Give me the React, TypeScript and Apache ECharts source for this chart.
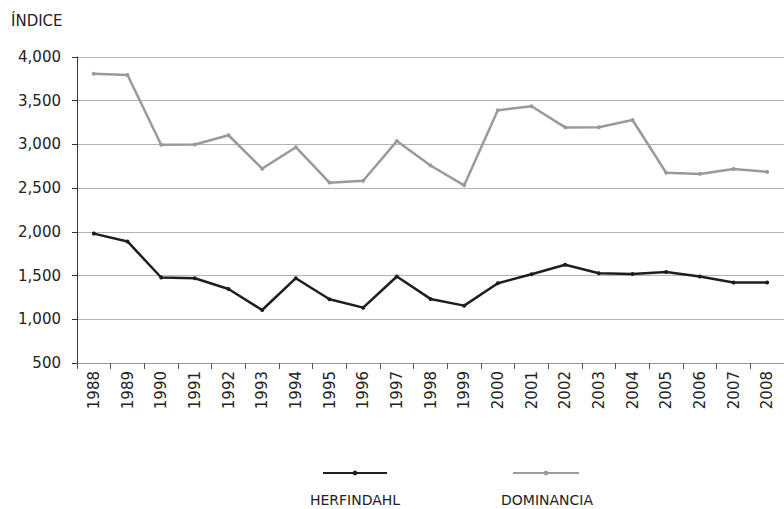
import React, { useEffect, useRef } from "react";
import * as echarts from "echarts";

const years = ["1988","1989","1990","1991","1992","1993","1994","1995","1996","1997","1998","1999","2000","2001","2002","2003","2004","2005","2006","2007","2008"];
const herfindahl = [1980,1890,1478,1470,1347,1106,1470,1229,1133,1489,1233,1156,1413,1516,1623,1527,1519,1542,1489,1420,1420];
const dominancia = [3808,3795,2996,3000,3105,2723,2968,2563,2584,3038,2759,2532,3390,3437,3195,3197,3279,2676,2663,2720,2686];
const seriesNames = ["HERFINDAHL", "DOMINANCIA"];
const yTitle = "ÍNDICE";

export default function App() {
  const ref = useRef<HTMLDivElement>(null);
  useEffect(() => {
    if (!ref.current) return;
    const chart = echarts.init(ref.current, undefined, { renderer: "svg" });
    const font = "DejaVu Sans";
    chart.setOption({
      animation: false,
      backgroundColor: "#ffffff",
      title: {
        text: yTitle,
        left: 6,
        top: 8,
        textStyle: { fontFamily: font, fontSize: 15, fontWeight: "normal", color: "#222" },
      },
      grid: { left: 77, top: 57, width: 711, height: 306 },
      legend: [
        {
          data: [seriesNames[0]],
          left: 317,
          top: 465,
          padding: 5,
          itemWidth: 64,
          itemHeight: 6,
          formatter: () => "",
          textStyle: { fontSize: 1 },
        },
        {
          data: [seriesNames[1]],
          left: 507,
          top: 465,
          padding: 5,
          itemWidth: 66,
          itemHeight: 6,
          formatter: () => "",
          textStyle: { fontSize: 1 },
        },
      ],
      graphic: [
        {
          type: "text",
          x: 355,
          y: 500,
          style: { text: seriesNames[0], fontFamily: font, fontSize: 14, fill: "#222", align: "center", verticalAlign: "middle" },
        },
        {
          type: "text",
          x: 547,
          y: 500,
          style: { text: seriesNames[1], fontFamily: font, fontSize: 14, fill: "#222", align: "center", verticalAlign: "middle" },
        },
      ],
      xAxis: {
        type: "category",
        data: years,
        boundaryGap: true,
        axisLine: { show: true, lineStyle: { color: "#999", width: 1 } },
        axisTick: { show: true, length: 6, lineStyle: { color: "#555" } },
        axisLabel: { rotate: 90, margin: 8, fontFamily: font, fontSize: 15, color: "#222", interval: 0 },
        splitLine: { show: false },
      },
      yAxis: {
        type: "value",
        min: 500,
        max: 4000,
        interval: 500,
        axisLine: { show: true, lineStyle: { color: "#333", width: 1 } },
        axisTick: { show: true, length: 5, lineStyle: { color: "#333" } },
        axisLabel: {
          margin: 16,
          fontFamily: font,
          fontSize: 15,
          color: "#222",
          formatter: (v: number) => v.toLocaleString("en-US"),
        },
        splitLine: { show: true, lineStyle: { color: "#b3b3b3", width: 1 } },
      },
      series: [
        {
          name: seriesNames[0],
          type: "line",
          data: herfindahl,
          symbol: "circle",
          symbolSize: 4,
          lineStyle: { color: "#1e1e1e", width: 2.5 },
          itemStyle: { color: "#1e1e1e" },
        },
        {
          name: seriesNames[1],
          type: "line",
          data: dominancia,
          symbol: "circle",
          symbolSize: 4,
          lineStyle: { color: "#9a9a9a", width: 2.5 },
          itemStyle: { color: "#9a9a9a" },
        },
      ],
    });
    return () => chart.dispose();
  }, []);
  return <div ref={ref} style={{ position: "absolute", left: 0, top: 0, width: 784, height: 509 }} />;
}
